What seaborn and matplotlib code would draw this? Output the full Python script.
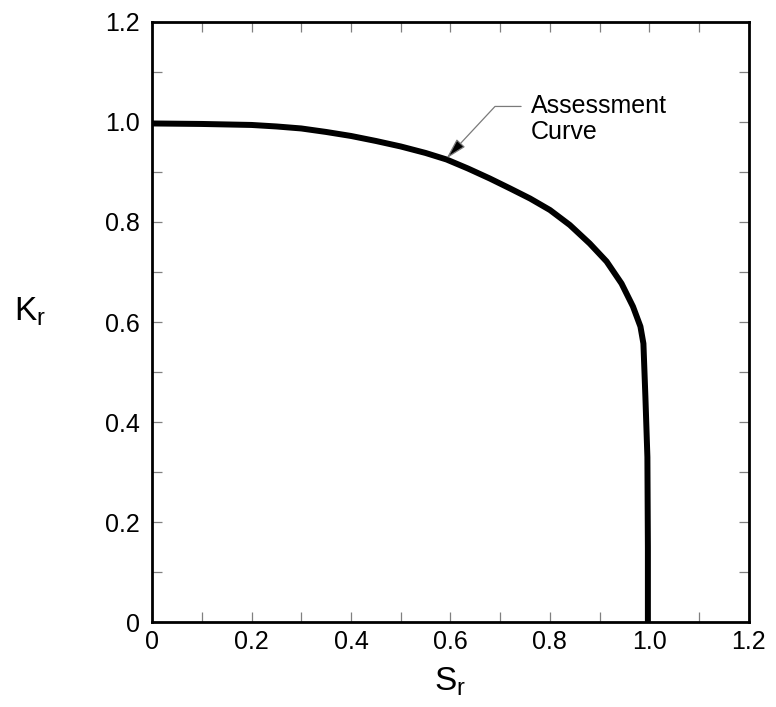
import matplotlib
matplotlib.use("Agg")
import matplotlib.pyplot as plt
import seaborn as sns
import pandas as pd

# assessment curve
sr = [0.0, 0.1, 0.2, 0.25, 0.3, 0.35, 0.4, 0.45, 0.5, 0.55, 0.592, 0.635, 0.679, 0.72,
      0.76, 0.80, 0.84, 0.88, 0.914, 0.944, 0.967, 0.982, 0.988, 0.992, 0.996, 0.997, 0.997]
kr = [0.997, 0.996, 0.994, 0.991, 0.987, 0.980, 0.972, 0.962, 0.951, 0.938, 0.925, 0.907,
      0.887, 0.867, 0.847, 0.824, 0.794, 0.757, 0.721, 0.677, 0.631, 0.591, 0.557, 0.45,
      0.33, 0.15, 0.0]

tick_vals = [0, 0.2, 0.4, 0.6, 0.8, 1.0, 1.2]
tick_labels = ["0", "0.2", "0.4", "0.6", "0.8", "1.0", "1.2"]
minor_vals = [0.1, 0.3, 0.5, 0.7, 0.9, 1.1]

sns.set_style("ticks")
plt.rcParams["font.family"] = ["Liberation Sans", "DejaVu Sans"]
plt.rcParams["text.color"] = "black"
plt.rcParams["axes.labelcolor"] = "black"

df = pd.DataFrame({"Sr": sr, "Kr": kr})

fig = plt.figure(figsize=(7.76, 7.07), dpi=100)
ax = fig.add_axes([0.196, 0.120, 0.769, 0.849])
sns.lineplot(data=df, x="Sr", y="Kr", sort=False, estimator=None,
             color="black", lw=4.3, ax=ax)
for ln in ax.lines:
    ln.set_solid_joinstyle("round")

ax.set_xlim(0, 1.2)
ax.set_ylim(0, 1.2)
ax.set_xticks(tick_vals)
ax.set_xticklabels(tick_labels)
ax.set_yticks(tick_vals)
ax.set_yticklabels(tick_labels)
ax.set_xticks(minor_vals, minor=True)
ax.set_yticks(minor_vals, minor=True)
for which in ("major", "minor"):
    ax.tick_params(axis="both", which=which, direction="in", length=7.5, width=0.9,
                   color="#808080", top=True, right=True)
ax.tick_params(axis="x", which="major", labelsize=18, pad=6, labelcolor="black")
ax.tick_params(axis="y", which="major", labelsize=18, pad=9, labelcolor="black")
for sp in ax.spines.values():
    sp.set_linewidth(2)
    sp.set_color("black")

ax.set_xlabel(r"$\mathregular{S_r}$", fontsize=24, labelpad=8)
ax.set_ylabel(r"$\mathregular{K_r}$", fontsize=24, rotation=0, labelpad=0)
ax.yaxis.set_label_coords(-0.205, 0.49)

ax.annotate("", xy=(0.592, 0.927), xytext=(0.742, 1.031),
            arrowprops=dict(arrowstyle="-|>,head_length=1.3,head_width=0.35",
                            connectionstyle="angle,angleA=180,angleB=47,rad=0",
                            ec="#7a7a7a", fc="black", lw=0.9, shrinkA=0, shrinkB=0))
ax.text(0.762, 1.006, "Assessment\nCurve", fontsize=18, ha="left", va="center", linespacing=1.1)

fig.savefig("out.png", dpi=100)
